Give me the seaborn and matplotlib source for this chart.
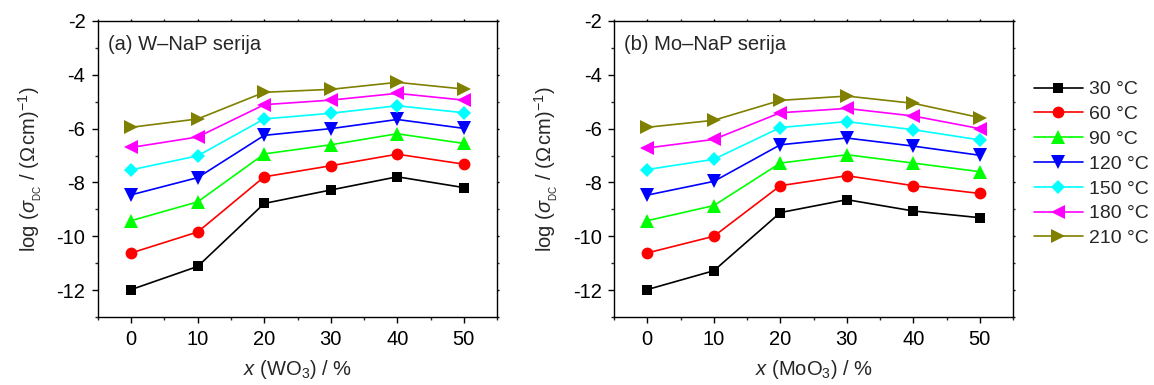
import numpy as np
import pandas as pd
import matplotlib
matplotlib.use("Agg")
import matplotlib.pyplot as plt
from matplotlib.ticker import MultipleLocator
import seaborn as sns

# ---- data ----
x_vals = [0, 10, 20, 30, 40, 50]
temps = ["30 °C", "60 °C", "90 °C", "120 °C", "150 °C", "180 °C", "210 °C"]

w_30 = [-11.98, -11.12, -8.78, -8.28, -7.79, -8.19]
w_60 = [-10.62, -9.84, -7.79, -7.38, -6.95, -7.32]
w_90 = [-9.42, -8.72, -6.94, -6.60, -6.19, -6.55]
w_120 = [-8.46, -7.82, -6.25, -6.00, -5.66, -5.99]
w_150 = [-7.53, -7.01, -5.64, -5.43, -5.15, -5.41]
w_180 = [-6.70, -6.31, -5.11, -4.94, -4.69, -4.94]
w_210 = [-5.95, -5.64, -4.65, -4.54, -4.28, -4.53]

mo_30 = [-11.98, -11.28, -9.12, -8.64, -9.06, -9.31]
mo_60 = [-10.62, -10.00, -8.12, -7.75, -8.12, -8.41]
mo_90 = [-9.42, -8.86, -7.28, -6.97, -7.28, -7.60]
mo_120 = [-8.47, -7.96, -6.60, -6.35, -6.65, -6.99]
mo_150 = [-7.52, -7.14, -5.96, -5.74, -6.04, -6.42]
mo_180 = [-6.72, -6.40, -5.41, -5.25, -5.53, -6.00]
mo_210 = [-5.95, -5.69, -4.95, -4.79, -5.06, -5.59]

w_series = [w_30, w_60, w_90, w_120, w_150, w_180, w_210]
mo_series = [mo_30, mo_60, mo_90, mo_120, mo_150, mo_180, mo_210]

colors = ["#000000", "#FF0000", "#00FF00", "#0000FF", "#00FFFF", "#FF00FF", "#808000"]
markers = ["s", "o", "^", "v", "D", "<", ">"]
msizes = [7.5, 8.5, 9.5, 9.5, 7.5, 9.5, 9.5]


def long_df(series):
    rows = []
    for t, ys in zip(temps, series):
        for xv, yv in zip(x_vals, ys):
            rows.append({"x": xv, "y": yv, "T": t})
    return pd.DataFrame(rows)


sns.set_style("ticks")
plt.rcParams["font.family"] = ["Liberation Sans", "DejaVu Sans"]
plt.rcParams["mathtext.fontset"] = "custom"
plt.rcParams["mathtext.rm"] = "Liberation Sans"
plt.rcParams["mathtext.it"] = "Liberation Sans:italic"
plt.rcParams["mathtext.bf"] = "Liberation Sans:bold"
plt.rcParams["axes.unicode_minus"] = False

FS = 14.5

fig = plt.figure(figsize=(11.54, 3.85), dpi=100)
ax1 = fig.add_axes([0.0849, 0.1766, 0.3458, 0.7689])
ax2 = fig.add_axes([0.5321, 0.1766, 0.3458, 0.7689])

for ax, series, title, xl in [
    (ax1, w_series, "(a) W\u2013NaP serija", r"$x$ (WO$_3$) / %"),
    (ax2, mo_series, "(b) Mo\u2013NaP serija", r"$x$ (MoO$_3$) / %"),
]:
    df = long_df(series)
    for t, c, m, ms in zip(temps, colors, markers, msizes):
        sub = df[df["T"] == t]
        sns.lineplot(data=sub, x="x", y="y", ax=ax, color=c, marker=m,
                     markersize=ms, markeredgewidth=0, linewidth=1.2,
                     label=t, legend=False)
    ax.set_xlim(-5, 55)
    ax.set_ylim(-13, -2)
    ax.xaxis.set_major_locator(MultipleLocator(10))
    ax.xaxis.set_minor_locator(MultipleLocator(5))
    ax.yaxis.set_major_locator(MultipleLocator(2))
    ax.yaxis.set_minor_locator(MultipleLocator(1))
    ax.tick_params(which="major", direction="out", length=4, width=1,
                   labelsize=FS, pad=5, colors="black")
    ax.tick_params(which="minor", direction="out", length=2.5, width=1)
    ax.tick_params(which="both", top=True, right=True)
    for s in ax.spines.values():
        s.set_linewidth(1.0)
        s.set_color("black")
    ax.set_xlabel(xl, fontsize=FS, labelpad=7)
    ax.set_ylabel(r"log ($\sigma_{_{\rm DC}}$ / ($\Omega\,$cm)$^{-1}$)",
                  fontsize=FS, labelpad=9)
    ax.text(0.026, 0.92, title, transform=ax.transAxes, fontsize=FS,
            ha="left", va="center")

# make top/right ticks tiny
for ax in (ax1, ax2):
    for tk in ax.xaxis.get_major_ticks() + ax.xaxis.get_minor_ticks():
        tk.tick2line.set_markersize(1.5)
    for tk in ax.yaxis.get_major_ticks() + ax.yaxis.get_minor_ticks():
        tk.tick2line.set_markersize(1.5)

handles, labels = ax2.get_legend_handles_labels()
fig.legend(handles, labels, loc="upper left", bbox_to_anchor=(0.896, 0.79),
           frameon=False, fontsize=14, handlelength=2.5, labelspacing=0.37,
           handletextpad=0.35, borderaxespad=0, borderpad=0)

fig.savefig("out.png", dpi=100)
